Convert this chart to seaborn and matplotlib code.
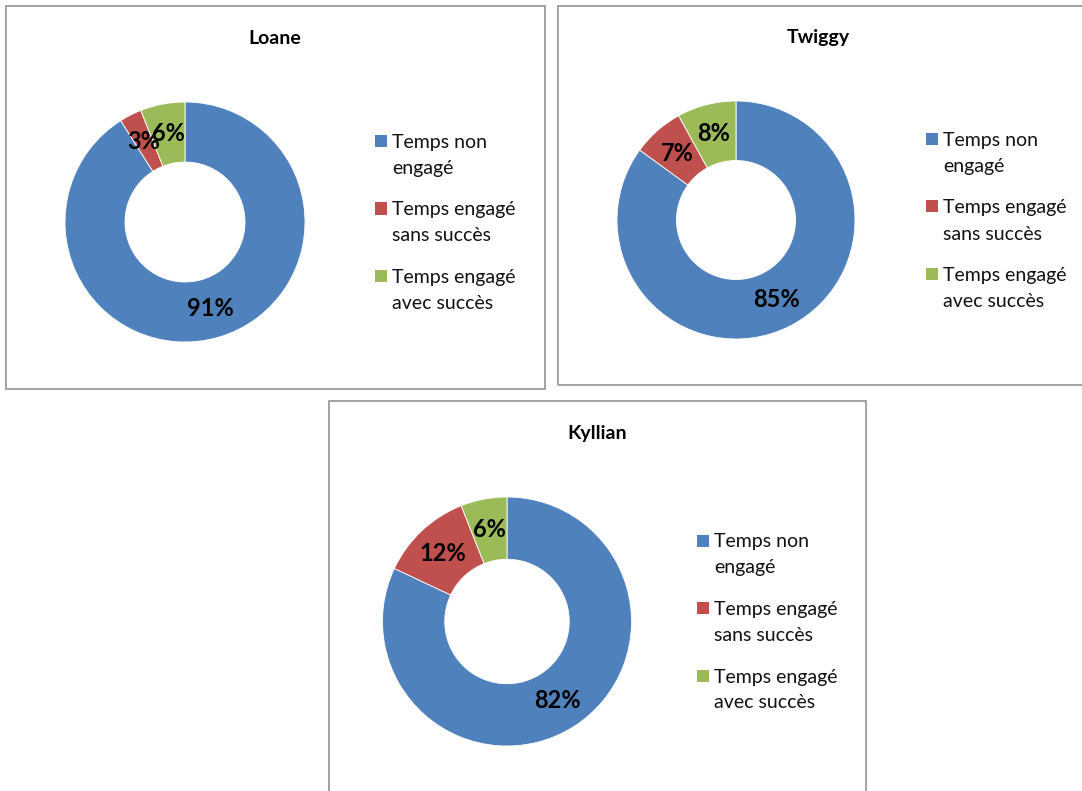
import matplotlib
matplotlib.use("Agg")
import matplotlib.pyplot as plt
from matplotlib.patches import Rectangle
import seaborn as sns

## Data
eleves = ["Loane", "Twiggy", "Kyllian"]
categories = ["Temps non\nengagé", "Temps engagé\nsans succès", "Temps engagé\navec succès"]
loane = [91, 3, 6]
twiggy = [85, 7, 8]
kyllian = [82, 12, 6]
valeurs = [loane, twiggy, kyllian]

couleurs = ["#4F81BD", "#C0504D", "#9BBB59"]

sns.set_theme(style="white")
plt.rcParams['font.family'] = ['Lato', 'DejaVu Sans']

W, H = 1082, 791
fig = plt.figure(figsize=(W / 100, H / 100), dpi=100)

def fx(x):
    return x / W

def fy(y):
    return 1 - y / H

# layout in pixels: (box left, box top, box right, box bottom, donut cx, cy, radius, title x, title y)
panneaux = [
    (5.5, 5.5, 545, 389, 185, 222, 120, 275, 38),
    (557.5, 5.5, 1100, 385.5, 736, 220, 119, 818, 37),
    (329, 400.5, 866, 820, 507, 621.5, 124.5, 597, 434),
]

for nom, vals, (bx0, by0, bx1, by1, cx, cy, r, tx, ty) in zip(eleves, valeurs, panneaux):
    # cadre du graphique
    fig.patches.append(Rectangle((fx(bx0), fy(by1)), fx(bx1 - bx0), (by1 - by0) / H,
                                 transform=fig.transFigure, fill=False,
                                 edgecolor="#9a9a9a", linewidth=1.3, zorder=0))
    fig.text(fx(tx), fy(ty), nom, ha="center", va="center",
             fontsize=14, fontweight="bold", color="black")

    ax = fig.add_axes([fx(cx - r), fy(cy + r), 2 * r / W, 2 * r / H])
    ax.pie(vals, colors=couleurs, startangle=90, counterclock=False,
           radius=1, autopct=lambda p: f"{p:.0f}%", pctdistance=0.75,
           wedgeprops=dict(width=0.5, edgecolor="white", linewidth=0.6),
           textprops=dict(fontsize=17, fontweight="bold", color="black"))
    ax.set_xlim(-1, 1)
    ax.set_ylim(-1, 1)
    ax.set_aspect("equal")
    ax.axis("off")

    # légende
    lx = cx + 190
    for i, (cat, col) in enumerate(zip(categories, couleurs)):
        yc = cy - 81 + i * 67.5
        fig.patches.append(Rectangle((fx(lx), fy(yc + 6)), 12 / W, 12 / H,
                                     transform=fig.transFigure, facecolor=col,
                                     edgecolor="none"))
        for j, ligne in enumerate(cat.split("\n")):
            fig.text(fx(lx + 17), fy(yc + 7 + j * 26), ligne, ha="left",
                     va="baseline", fontsize=14, color="#111111")

fig.savefig("out.png", dpi=100, facecolor="white")
